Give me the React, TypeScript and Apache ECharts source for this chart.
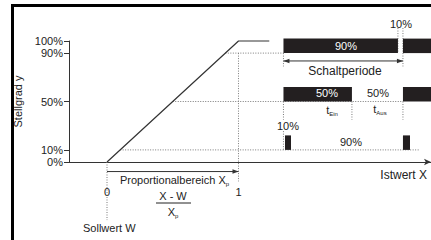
import React, { useEffect, useRef } from 'react';
import * as echarts from 'echarts';

// ---- data ----
const yTicks = [0, 10, 50, 90, 100];
const xTicks = [0, 1];
// control characteristic: X normalised to proportional band, y in %
const controlCurve: number[][] = [
  [0, 0],
  [1, 100],
  [1.234, 100],
];
// PWM rows: duty level (%) and on-intervals in periods
const dutyLevels = [90, 50, 10];
const onIntervals: number[][][] = [
  [[0, 0.958], [1, 1.24]],
  [[0, 0.573], [1, 1.24]],
  [[0.013, 0.063], [1, 1.059]],
];

// ---- layout / style constants ----
const FONT = '"Liberation Sans", Arial, Helvetica, sans-serif';
const INK = '#222222';
const DOT = '#7a7a7a';
const BAR = '#231f20';
const PWM_X0 = 1.342; // where the PWM time origin sits on the X axis
const PWM_PERIOD = 0.9087; // one period in X-axis units
const tx = (t: number) => PWM_X0 + t * PWM_PERIOD;
const BAR_H = 14.5;

const barData: number[][] = [];
dutyLevels.forEach((lvl, i) => {
  onIntervals[i].forEach(([a, b]) => barData.push([tx(a), tx(b), lvl]));
});

const guides: number[][] = [
  [dutyLevels[0] / 100, dutyLevels[0], tx(0), dutyLevels[0]],
  [dutyLevels[1] / 100, dutyLevels[1], tx(1), dutyLevels[1]],
  [dutyLevels[2] / 100, dutyLevels[2], tx(1.142), dutyLevels[2]],
  [0, 0, 0, -48],
  [1, 90, 1, -16],
  [tx(0), 90, tx(0), 79],
  [tx(1), 110.7, tx(1), 79],
  [tx(0.958), 110.7, tx(0.958), 90],
  [tx(0), 50, tx(0), 35],
  [tx(0.573), 50, tx(0.573), 35],
  [tx(1), 50, tx(1), 35],
  [tx(0), 25.5, tx(0), 10],
];

const arrows: number[][] = [
  [0, -7.9, 1, -7.9, 0, 1],
  [tx(0), 83.5, tx(1), 83.5, 1, 1],
];

function txt(text: string, x: number, y: number, opts: any = {}) {
  return {
    type: 'text',
    x,
    y,
    z: 100,
    silent: true,
    style: {
      text,
      fill: opts.fill || INK,
      font: `${opts.size || 11}px ${FONT}`,
      fontSize: opts.size || 11,
      fontFamily: FONT,
      align: opts.align || 'center',
      textAlign: opts.align || 'center',
      verticalAlign: 'middle',
      textVerticalAlign: 'middle',
      rich: opts.rich,
    },
  };
}

const subRich = {
  m: { fontSize: 11, fontFamily: FONT, fill: INK, color: INK, lineHeight: 13, verticalAlign: 'middle' },
  s: { fontSize: 6, fontFamily: FONT, fill: INK, color: INK, lineHeight: 13, verticalAlign: 'bottom' },
};

export default function App() {
  const ref = useRef<HTMLDivElement>(null);
  useEffect(() => {
    if (!ref.current) return;
    const chart = echarts.init(ref.current, undefined, { renderer: 'svg' });
    const option: any = {
      animation: false,
      backgroundColor: '#ffffff',
      textStyle: { color: INK, fontFamily: FONT },
      grid: { left: 69, right: 0, top: 41, bottom: 78, containLabel: false },
      xAxis: {
        type: 'value',
        min: -0.289,
        max: 2.464,
        axisLine: {
          show: true,
          onZero: false,
          symbol: ['none', 'arrow'],
          symbolSize: [5, 7],
          lineStyle: { color: '#333', width: 1.2 },
        },
        axisTick: { show: false },
        splitLine: { show: false },
        axisLabel: {
          customValues: xTicks,
          margin: 24,
          color: INK,
          fontSize: 11,
          fontFamily: FONT,
        },
      },
      yAxis: {
        type: 'value',
        min: 0,
        max: 100,
        interval: 10,
        name: 'Stellgrad y',
        nameLocation: 'middle',
        nameRotate: 90,
        nameGap: 45,
        nameTextStyle: { color: INK, fontSize: 11, fontFamily: FONT },
        axisLine: { show: true, onZero: false, lineStyle: { color: '#333', width: 1 } },
        axisTick: { show: true, customValues: yTicks, length: 5, lineStyle: { color: '#333' } },
        axisLabel: {
          customValues: yTicks,
          formatter: '{value}%',
          margin: 6,
          color: INK,
          fontSize: 11,
          fontFamily: FONT,
        },
        splitLine: { show: false },
      },
      series: [
        {
          type: 'custom',
          clip: false,
          silent: true,
          data: guides,
          renderItem: (_p: any, api: any) => {
            const p1 = api.coord([api.value(0), api.value(1)]);
            const p2 = api.coord([api.value(2), api.value(3)]);
            return {
              type: 'line',
              shape: { x1: p1[0], y1: p1[1], x2: p2[0], y2: p2[1] },
              style: { stroke: DOT, lineWidth: 1, lineDash: [1, 1.5] },
            };
          },
        },
        {
          type: 'line',
          data: controlCurve,
          symbol: 'none',
          clip: false,
          silent: true,
          lineStyle: { color: '#333', width: 1.2 },
        },
        {
          type: 'custom',
          clip: false,
          silent: true,
          data: barData,
          renderItem: (_p: any, api: any) => {
            const p1 = api.coord([api.value(0), api.value(2)]);
            const p2 = api.coord([api.value(1), api.value(2)]);
            return {
              type: 'rect',
              shape: { x: p1[0], y: p1[1] - BAR_H, width: p2[0] - p1[0], height: BAR_H },
              style: { fill: BAR },
            };
          },
        },
        {
          type: 'custom',
          clip: false,
          silent: true,
          data: arrows,
          renderItem: (_p: any, api: any) => {
            const p1 = api.coord([api.value(0), api.value(1)]);
            const p2 = api.coord([api.value(2), api.value(3)]);
            const dx = p2[0] - p1[0];
            const dy = p2[1] - p1[1];
            const len = Math.sqrt(dx * dx + dy * dy) || 1;
            const ux = dx / len;
            const uy = dy / len;
            const L = 6;
            const W = 2.2;
            const head = (tip: number[], sx: number, sy: number) => ({
              type: 'polygon',
              shape: {
                points: [
                  [tip[0], tip[1]],
                  [tip[0] - sx * L - sy * W, tip[1] - sy * L + sx * W],
                  [tip[0] - sx * L + sy * W, tip[1] - sy * L - sx * W],
                ],
              },
              style: { fill: '#333' },
            });
            const children: any[] = [
              {
                type: 'line',
                shape: { x1: p1[0], y1: p1[1], x2: p2[0], y2: p2[1] },
                style: { stroke: '#333', lineWidth: 1 },
              },
            ];
            if (api.value(4)) children.push(head(p1, -ux, -uy));
            if (api.value(5)) children.push(head(p2, ux, uy));
            return { type: 'group', children };
          },
        },
      ],
      graphic: [
        { type: 'line', z: 100, silent: true, shape: { x1: 11, y1: 5.5, x2: 431, y2: 5.5 }, style: { stroke: '#000', lineWidth: 3 } },
        { type: 'line', z: 100, silent: true, shape: { x1: 12.5, y1: 4, x2: 12.5, y2: 240 }, style: { stroke: '#000', lineWidth: 3 } },
        txt('90%', 346, 46, { fill: '#ffffff' }),
        txt('10%', 401, 24),
        txt('Schaltperiode', 345, 71, { size: 12 }),
        txt('50%', 327, 93, { fill: '#ffffff' }),
        txt('50%', 378, 93),
        txt('{m|t}{s|Ein}', 332, 110, { rich: subRich }),
        txt('{m|t}{s|Aus}', 380, 109, { rich: subRich }),
        txt('10%', 288, 126),
        txt('90%', 351, 142),
        txt('{m|Proportionalbereich X}{s|p}', 120, 180, { align: 'left', rich: subRich }),
        txt('X - W', 173, 196),
        { type: 'line', z: 100, silent: true, shape: { x1: 156, y1: 203, x2: 191, y2: 203 }, style: { stroke: INK, lineWidth: 1 } },
        txt('{m|X}{s|p}', 173, 212, { rich: subRich }),
        txt('Sollwert W', 83, 228, { align: 'left' }),
        txt('Istwert X', 427, 175, { align: 'right', size: 12 }),
      ],
    };
    chart.setOption(option);
    return () => chart.dispose();
  }, []);
  return (
    <div
      ref={ref}
      style={{ position: 'absolute', left: 0, top: 0, width: 431, height: 240, background: '#fff' }}
    />
  );
}
